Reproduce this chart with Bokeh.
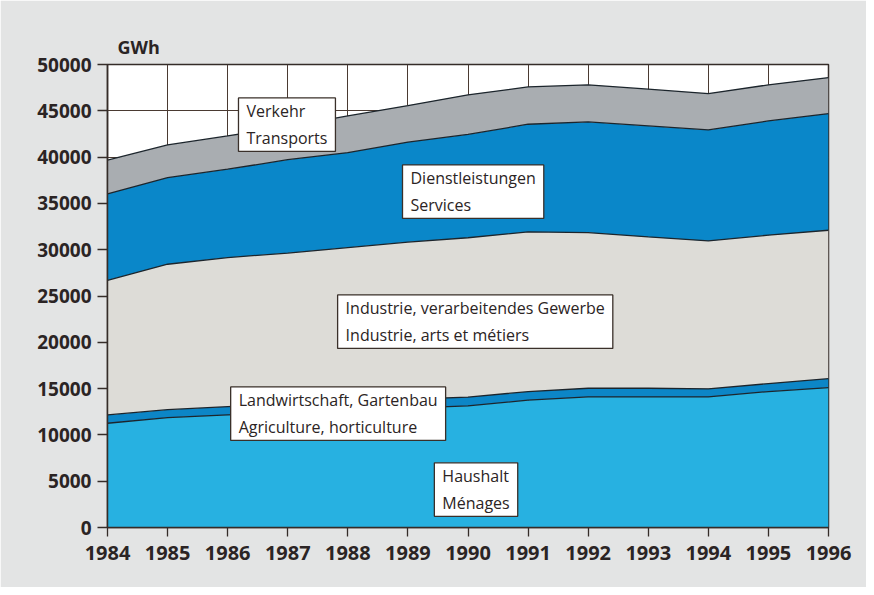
import numpy as np
from bokeh.plotting import figure
from bokeh.models import ColumnDataSource, Range1d, FixedTicker, NumeralTickFormatter, Label
from bokeh.embed import file_html
from bokeh.resources import INLINE

years = [1984, 1985, 1986, 1987, 1988, 1989, 1990, 1991, 1992, 1993, 1994, 1995, 1996]
haushalt = [11260, 11870, 12160, 12400, 12650, 12900, 13130, 13750, 14100, 14100, 14100, 14680, 15110]
landwirtschaft = [900, 850, 900, 950, 950, 950, 950, 930, 940, 940, 880, 860, 970]
industrie = [14540, 15710, 16090, 16290, 16630, 16970, 17210, 17240, 16810, 16340, 15970, 16030, 16020]
dienstleistungen = [9330, 9360, 9540, 10080, 10260, 10800, 11160, 11630, 11950, 11990, 11990, 12340, 12600]
verkehr = [3640, 3530, 3600, 3580, 3960, 3950, 4270, 4030, 4000, 3960, 3920, 3890, 3890]

series = ["haushalt", "landwirtschaft", "industrie", "dienstleistungen", "verkehr"]
colors = ["#27b1e1", "#0c86c7", "#dddcd7", "#0a87c9", "#a9adb1"]

labels = ["Haushalt\nMénages",
          "Landwirtschaft, Gartenbau\nAgriculture, horticulture",
          "Industrie, verarbeitendes Gewerbe\nIndustrie, arts et métiers",
          "Dienstleistungen\nServices",
          "Verkehr\nTransports"]
label_pos = [(1989.44, 6980), (1986.05, 15180), (1987.83, 25120), (1988.91, 39160), (1986.18, 46390)]

y_ticks = list(range(0, 50001, 5000))

src = ColumnDataSource(dict(year=years, haushalt=haushalt, landwirtschaft=landwirtschaft,
                            industrie=industrie, dienstleistungen=dienstleistungen, verkehr=verkehr))

TICK_FONT = "Open Sans"
TEXT_COLOR = "#2b2424"

p = figure(width=866, height=587, output_backend="svg", toolbar_location=None,
           x_range=Range1d(1984, 1996), y_range=Range1d(0, 50000),
           min_border_left=107, min_border_right=38, min_border_top=64, min_border_bottom=60)

p.background_fill_color = "white"
p.border_fill_color = "#e3e4e4"
p.outline_line_color = "#352c28"
p.outline_line_width = 1.5

p.title.text = "GWh"
p.title.align = "left"
p.title.offset = 10
p.title.text_font = TICK_FONT
p.title.text_font_size = "18px"
p.title.text_font_style = "bold"
p.title.text_color = TEXT_COLOR
p.title.standoff = 11

p.varea_stack(stackers=series, x="year", color=colors, source=src)
p.vline_stack(stackers=series, x="year", color="#1c252c", line_width=1.3, source=src)

p.xaxis.ticker = FixedTicker(ticks=years)
p.yaxis.ticker = FixedTicker(ticks=y_ticks)
p.yaxis.formatter = NumeralTickFormatter(format="0")
p.xgrid.ticker = FixedTicker(ticks=years)
p.ygrid.ticker = FixedTicker(ticks=y_ticks)
p.grid.grid_line_color = "#4a3a32"
p.grid.grid_line_width = 1
p.grid.grid_line_alpha = 1

for ax in (p.xaxis, p.yaxis):
    ax.axis_line_color = "#352c28"
    ax.axis_line_width = 1.5
    ax.major_tick_line_color = "#352c28"
    ax.major_tick_line_width = 1.3
    ax.major_tick_in = 0
    ax.minor_tick_line_color = None
    ax.major_label_text_font = TICK_FONT
    ax.major_label_text_font_style = "bold"
    ax.major_label_text_color = TEXT_COLOR

p.yaxis.major_tick_out = 10
p.yaxis.major_label_text_font_size = "19px"
p.yaxis.major_label_standoff = 6
p.xaxis.major_tick_out = 9
p.xaxis.major_label_text_font_size = "20px"
p.xaxis.major_label_standoff = 9

for txt, (lx, ly) in zip(labels, label_pos):
    p.add_layout(Label(x=lx, y=ly, text=txt, anchor="top_left",
                       text_font=TICK_FONT, text_font_size="16px", text_color=TEXT_COLOR,
                       text_line_height=1.25,
                       background_fill_color="white", border_line_color="#3a302a",
                       border_line_width=1.3,
                       padding=dict(left=8, right=8, top=2, bottom=2)))

open("out.html", "w").write(file_html(p, INLINE))
